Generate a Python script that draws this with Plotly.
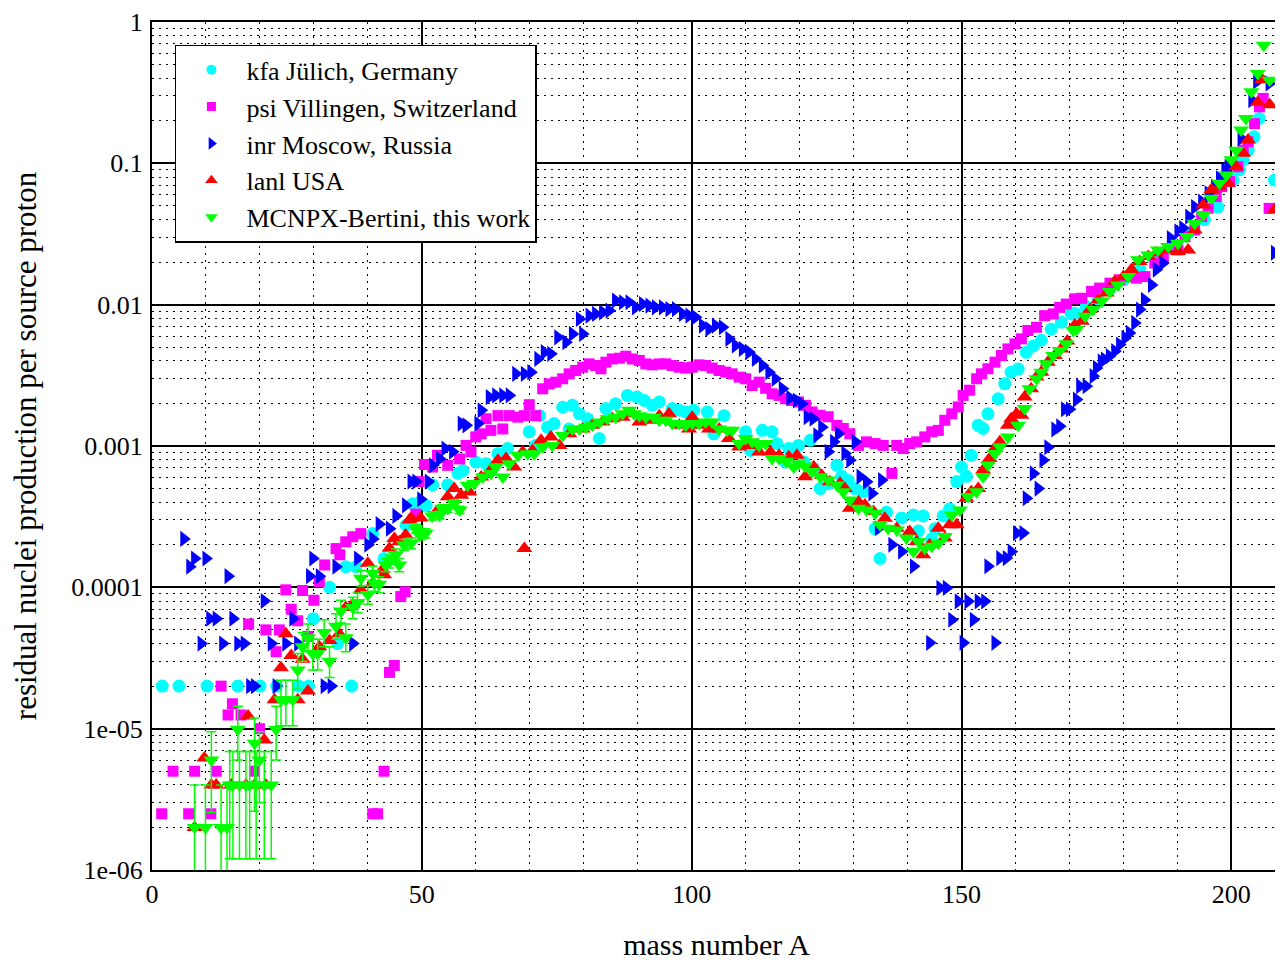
import plotly.graph_objects as go

# ---------------- data ----------------
kfa_A = [1.9, 5.0, 10.2, 15.9, 20.0, 23.1, 27.2, 29.0, 29.9, 32.9, 34.4, 35.9, 37.0, 37.8, 40.9, 43.0,
         47.1, 48.3, 49.6, 50.8, 52.0, 54.8, 56.7, 57.6, 60.0, 61.9, 64.1, 65.9, 69.9, 71.1, 71.8, 73.3,
         74.5, 76.1, 77.3, 77.9, 79.2, 80.7, 82.9, 84.1, 85.9, 88.1, 89.9, 91.2, 92.7, 94.0, 96.4, 97.7,
         98.9, 100.4, 102.9, 104.1, 106.0, 110.0, 110.9, 113.1, 114.9, 115.8, 117.4, 118.0, 119.8, 120.8,
         122.0, 122.6, 123.8, 125.3, 126.9, 127.8, 129.0, 130.3, 131.8, 134.0, 134.9, 136.1, 138.9, 141.1,
         142.0, 142.9, 144.5, 145.1, 146.6, 147.8, 149.1, 150.0, 150.9, 151.8, 153.1, 154.0, 154.9, 156.8,
         158.0, 159.2, 160.5, 162.0, 163.3, 164.8, 166.6, 168.5, 170.3, 171.0, 173.1, 175.3, 177.5, 180.0,
         183.0, 186.0, 189.0, 192.0, 195.0, 197.5, 200.3, 201.5, 202.2, 203.1, 204.2, 205.2, 208.0]
kfa_val = [2e-5, 2e-5, 2e-5, 2e-5, 2e-5, 2e-5, 2e-5, 2e-5, 6.0e-5, 1.0e-4, 4.0e-5, 1.4e-4, 2e-5, 1.4e-4, 2.4e-4, 1.6e-4,
           2.75e-4, 3.9e-4, 4.0e-4, 3.8e-4, 5.3e-4, 5.3e-4, 6.4e-4, 6.7e-4, 7.7e-4, 7.5e-4, 8.8e-4, 9.6e-4, 1.26e-3, 1.01e-3, 1.64e-3, 1.36e-3,
           1.44e-3, 1.88e-3, 1.32e-3, 1.94e-3, 1.69e-3, 1.56e-3, 1.13e-3, 1.84e-3, 1.99e-3, 2.28e-3, 2.22e-3, 2.10e-3, 1.94e-3, 2.05e-3, 1.84e-3, 1.79e-3,
           1.74e-3, 1.79e-3, 1.74e-3, 1.22e-3, 1.64e-3, 1.26e-3, 9.3e-4, 1.29e-3, 1.26e-3, 1.04e-3, 7.7e-4, 9.6e-4, 1.01e-3, 7.7e-4,
           1.10e-3, 6.9e-4, 5.0e-4, 5.4e-4, 7.3e-4, 6.1e-4, 5.7e-4, 5.0e-4, 4.75e-4, 2.6e-4, 1.6e-4, 3.4e-4, 3.1e-4, 3.25e-4,
           2.5e-4, 3.2e-4, 2.2e-4, 2.6e-4, 3.2e-4, 3.6e-4, 5.6e-4, 7.1e-4, 6.1e-4, 8.6e-4, 1.40e-3, 1.33e-3, 1.69e-3, 2.16e-3,
           2.76e-3, 3.33e-3, 3.5e-3, 4.6e-3, 5.1e-3, 5.6e-3, 6.7e-3, 7.5e-3, 8.6e-3, 8.7e-3, 9.7e-3, 1.1e-2, 1.3e-2, 1.5e-2,
           1.8e-2, 2.1e-2, 2.5e-2, 3.2e-2, 4.0e-2, 4.9e-2, 7.6e-2, 9.0e-2, 0.106, 0.124, 0.154, 0.208, 7.6e-2]

psi_A = [1.8, 3.9, 6.8, 7.9, 10.9, 11.9, 12.8, 14.1, 14.9, 16.5, 17.9, 19.0, 19.9, 21.1, 23.0, 23.6, 24.8, 25.8,
         27.0, 27.9, 28.9, 30.0, 31.0, 32.0, 34.1, 34.8, 35.9, 37.2, 38.7, 40.9, 41.8, 43.0, 44.0, 44.9, 46.1, 46.9,
         48.9, 49.5, 50.5, 52.0, 52.9, 54.8, 57.0, 58.2, 59.1, 60.0, 61.0, 61.9, 62.8, 64.1, 65.0, 66.2, 67.8, 69.0,
         69.9, 71.1, 72.4, 73.6, 74.8, 76.1, 77.3, 78.5, 79.8, 81.0, 82.2, 83.2, 84.1, 85.3, 86.6, 87.8, 89.0, 90.3,
         91.5, 92.7, 94.0, 95.2, 96.4, 97.7, 98.9, 100.1, 101.4, 102.6, 103.8, 105.1, 106.3, 107.5, 108.8, 110.0,
         111.2, 112.5, 113.7, 114.9, 116.2, 117.4, 118.6, 119.8, 121.1, 122.3, 123.8, 125.3, 126.9, 128.1, 129.3,
         130.9, 132.4, 134.0, 135.5, 137.1, 138.0, 139.2, 140.4, 141.7, 143.2, 144.5, 145.7, 146.9, 148.2, 149.4,
         150.3, 151.5, 152.8, 153.7, 154.9, 156.2, 157.4, 158.6, 159.9, 161.1, 162.3, 163.9, 165.4, 167.0, 168.2,
         169.4, 171.0, 172.3, 174.1, 175.6, 177.5, 179.3, 180.9, 182.4, 184.0, 185.8, 187.4, 190.1, 191.4, 193.2,
         194.5, 195.7, 197.2, 198.2, 199.7, 201.2, 202.2, 203.1, 204.3, 205.2, 205.9, 207.0]
psi_val = [2.5e-6, 5e-6, 2.5e-6, 5e-6, 2.5e-6, 5e-6, 2e-5, 1.25e-5, 1.5e-5, 1.25e-5, 5.5e-5, 5e-6, 1.0e-5, 5.0e-5, 3.5e-5, 5.0e-5, 9.6e-5, 7.0e-5,
           5.8e-5, 9.5e-5, 4.5e-5, 8.1e-5, 1.1e-4, 1.44e-4, 1.88e-4, 1.7e-4, 2.1e-4, 2.28e-4, 2.4e-4, 2.5e-6, 2.5e-6, 5e-6, 2.5e-5, 2.8e-5, 8.6e-5, 9.3e-5,
           3.3e-4, 5.6e-4, 7.4e-4, 7.1e-4, 8.6e-4, 7.3e-4, 8.1e-4, 1.01e-3, 9.1e-4, 1.16e-3, 1.22e-3, 1.56e-3, 1.29e-3, 1.64e-3, 1.32e-3, 1.64e-3, 1.6e-3, 1.64e-3,
           1.96e-3, 1.64e-3, 2.54e-3, 2.75e-3, 2.83e-3, 2.99e-3, 3.24e-3, 3.42e-3, 3.61e-3, 3.81e-3, 3.71e-3, 3.52e-3, 3.92e-3, 4.13e-3, 4.18e-3, 4.32e-3, 4.13e-3, 4.03e-3,
           3.81e-3, 3.75e-3, 3.81e-3, 3.81e-3, 3.71e-3, 3.61e-3, 3.56e-3, 3.61e-3, 3.75e-3, 3.71e-3, 3.56e-3, 3.42e-3, 3.33e-3, 3.24e-3, 3.07e-3, 2.99e-3,
           2.68e-3, 2.83e-3, 2.56e-3, 2.34e-3, 2.28e-3, 2.16e-3, 2.10e-3, 2.05e-3, 1.94e-3, 1.74e-3, 1.65e-3, 1.61e-3, 1.40e-3, 1.33e-3, 1.22e-3,
           1.01e-3, 1.07e-3, 1.04e-3, 1.01e-3, 6.4e-4, 1.01e-3, 9.6e-4, 1.04e-3, 1.07e-3, 1.16e-3, 1.26e-3, 1.29e-3, 1.52e-3, 1.69e-3, 1.89e-3,
           2.28e-3, 2.48e-3, 2.99e-3, 3.24e-3, 3.52e-3, 3.92e-3, 4.37e-3, 4.86e-3, 5.28e-3, 5.73e-3, 6.56e-3, 6.92e-3, 8.36e-3, 8.6e-3, 9.57e-3,
           1.01e-2, 1.10e-2, 1.11e-2, 1.24e-2, 1.31e-2, 1.42e-2, 1.5e-2, 1.58e-2, 1.54e-2, 1.58e-2, 1.97e-2, 2.19e-2, 2.44e-2, 3.03e-2, 3.38e-2,
           4.21e-2, 4.81e-2, 5.82e-2, 6.84e-2, 7.43e-2, 9.46e-2, 0.124, 0.142, 0.191, 0.251, 0.288, 4.8e-2]

inr_A = [5.9, 7.0, 7.9, 9.1, 10.0, 10.7, 11.9, 13.1, 14.1, 15.0, 15.9, 17.1, 18.1, 19.0, 20.8, 22.1, 23.0, 24.8,
         26.1, 27.0, 29.2, 29.8, 31.0, 31.9, 33.2, 34.1, 37.2, 38.1, 40.0, 40.9, 42.1, 44.0, 45.2, 47.0, 48.0, 48.9,
         49.8, 51.2, 52.0, 53.3, 54.3, 55.7, 57.3, 58.2, 60.4, 61.0, 62.5, 63.7, 65.0, 66.2, 67.4, 69.0, 70.2, 71.5,
         72.7, 73.9, 75.2, 76.7, 77.9, 79.2, 79.8, 81.0, 82.2, 83.5, 84.7, 85.9, 87.2, 88.4, 89.6, 90.9, 92.1, 93.3,
         94.6, 95.8, 97.0, 98.3, 99.5, 100.7, 102.0, 103.2, 104.4, 105.7, 106.9, 108.1, 109.4, 110.6, 111.8, 113.1,
         114.3, 115.5, 116.8, 118.2, 119.4, 120.4, 121.4, 122.5, 123.2, 124.1, 125.3, 126.3, 127.2, 128.4, 129.3,
         130.3, 131.2, 132.4, 133.4, 134.6, 135.2, 137.1, 138.9, 141.1, 144.1, 146.0, 147.2, 148.2, 149.4, 150.3,
         151.2, 152.2, 153.1, 154.3, 154.9, 156.2, 157.1, 158.3, 159.2, 160.2, 161.4, 162.0, 163.3, 164.2, 165.1,
         166.0, 167.3, 168.2, 169.1, 170.0, 171.3, 171.9, 173.1, 174.4, 175.0, 175.9, 176.5, 177.4, 178.4, 179.3,
         180.3, 181.1, 182.1, 183.0, 183.9, 185.2, 186.1, 187.3, 188.7, 190.1, 191.0, 192.1, 193.2, 194.5, 195.7,
         196.9, 197.8, 198.8, 199.4, 201.8, 203.8, 204.7, 205.5, 207.0, 208.0]
inr_val = [2.2e-4, 1.4e-4, 1.6e-4, 4e-5, 1.6e-4, 6e-5, 6e-5, 4e-5, 1.2e-4, 6e-5, 4e-5, 4e-5, 2e-5, 2e-5, 8e-5, 4e-5, 2e-5, 4e-5,
           6e-5, 4e-5, 1.2e-4, 1.6e-4, 1.2e-4, 2e-5, 2e-5, 1.4e-4, 4e-5, 1.6e-4, 2.0e-4, 2.2e-4, 2.8e-4, 2.6e-4, 3.2e-4, 3.8e-4, 5.6e-4, 5.6e-4,
           4.2e-4, 5.6e-4, 7.3e-4, 8.1e-4, 9.6e-4, 9.1e-4, 1.44e-3, 1.40e-3, 1.44e-3, 1.79e-3, 2.22e-3, 2.28e-3, 2.28e-3, 2.28e-3, 3.24e-3, 3.24e-3, 3.33e-3, 4.13e-3,
           4.61e-3, 4.49e-3, 5.87e-3, 5.42e-3, 6.21e-3, 7.92e-3, 6.21e-3, 8.36e-3, 8.6e-3, 8.83e-3, 9.08e-3, 1.07e-2, 1.04e-2, 1.04e-2, 9.57e-3, 1.01e-2, 9.84e-3, 9.57e-3,
           9.57e-3, 9.31e-3, 9.31e-3, 8.6e-3, 8.36e-3, 8.15e-3, 7.11e-3, 6.73e-3, 7.11e-3, 6.92e-3, 5.73e-3, 5.14e-3, 4.86e-3, 4.61e-3, 4.13e-3, 3.71e-3,
           3.33e-3, 2.99e-3, 2.54e-3, 2.19e-3, 2.10e-3, 1.99e-3, 1.60e-3, 1.56e-3, 1.19e-3, 1.36e-3, 9.1e-4, 1.07e-3, 1.22e-3, 8.85e-4, 7.94e-4,
           1.07e-3, 6.07e-4, 5.58e-4, 4.62e-4, 2.62e-4, 5.74e-4, 2.0e-4, 1.79e-4, 1.41e-4, 4.05e-5, 9.9e-5, 9.9e-5, 5.9e-5, 7.96e-5, 4.05e-5,
           7.96e-5, 5.9e-5, 7.96e-5, 7.96e-5, 1.41e-4, 4.05e-5, 1.61e-4, 1.61e-4, 1.79e-4, 2.42e-4, 2.42e-4, 4.27e-4, 6.4e-4, 5.0e-4, 7.94e-4,
           9.8e-4, 1.31e-3, 1.38e-3, 1.82e-3, 1.82e-3, 2.13e-3, 2.65e-3, 2.65e-3, 3.12e-3, 3.57e-3, 3.98e-3, 4.09e-3, 4.32e-3, 4.69e-3, 5.22e-3,
           5.82e-3, 6.31e-3, 7.43e-3, 9.23e-3, 1.08e-2, 1.38e-2, 1.77e-2, 1.97e-2, 2.96e-2, 3.3e-2, 3.48e-2, 4.2e-2, 4.9e-2, 5.36e-2, 6.14e-2,
           6.84e-2, 7.83e-2, 8.97e-2, 9.46e-2, 0.15, 0.28, 0.38, 0.40, 0.367, 2.33e-2]

lanl_A = [7.9, 9.7, 11.0, 11.9, 14.7, 17.4, 17.8, 19.0, 20.8, 21.1, 22.7, 23.9, 24.8, 25.8, 27.0, 27.9, 28.9, 31.0,
          32.9, 34.7, 35.9, 37.2, 38.7, 40.0, 40.9, 42.7, 43.0, 44.0, 44.9, 45.8, 47.0, 47.7, 48.0, 49.8, 52.7, 54.8,
          56.0, 57.3, 58.8, 61.0, 62.5, 64.1, 65.6, 67.1, 68.7, 69.0, 70.5, 72.1, 73.9, 75.5, 77.3, 79.8, 81.6, 83.5,
          85.3, 87.2, 89.0, 90.3, 92.1, 94.0, 95.8, 97.7, 99.5, 100.1, 101.4, 103.2, 105.1, 106.9, 108.8, 110.6, 112.5,
          114.6, 116.2, 118.0, 119.5, 121.0, 122.6, 124.1, 125.6, 127.5, 128.4, 129.3, 130.9, 132.1, 133.7, 135.8,
          138.0, 140.4, 141.7, 142.9, 144.1, 145.7, 146.9, 147.8, 149.1, 150.9, 151.8, 153.1, 154.0, 155.2, 156.2,
          157.1, 158.6, 159.2, 160.2, 161.1, 161.7, 162.9, 163.9, 164.8, 166.0, 167.3, 168.5, 169.6, 171.0, 172.3,
          173.8, 175.3, 176.9, 178.4, 180.0, 181.5, 183.0, 184.6, 186.1, 188.0, 190.1, 192.0, 193.2, 194.8, 196.3,
          197.8, 199.4, 200.9, 202.2, 203.1, 204.9, 205.7, 207.1, 208.0]
lanl_val = [2e-6, 6.2e-6, 4e-6, 4e-6, 4e-6, 4e-6, 1.23e-5, 4e-6, 8.3e-6, 4e-6, 1.6e-5, 2.7e-5, 4.7e-5, 3.3e-5, 1.6e-5, 3.1e-5, 1.85e-5, 3.8e-5,
            4.2e-5, 4.7e-5, 7.2e-5, 7.6e-5, 9.6e-5, 1.48e-4, 1.07e-4, 1.33e-4, 1.23e-4, 1.89e-4, 2.22e-4, 2.1e-4, 2.35e-4, 2.99e-4, 3.08e-4, 3.1e-4, 3.42e-4, 4.37e-4,
            5.0e-4, 4.49e-4, 4.73e-4, 6.04e-4, 6.55e-4, 7.93e-4, 8.15e-4, 7.11e-4, 9.08e-4, 1.88e-4, 9.31e-4, 1.10e-3, 1.16e-3, 1.01e-3, 1.22e-3, 1.32e-3, 1.40e-3, 1.48e-3,
            1.56e-3, 1.60e-3, 1.69e-3, 1.48e-3, 1.52e-3, 1.64e-3, 1.69e-3, 1.40e-3, 1.32e-3, 1.60e-3, 1.40e-3, 1.32e-3, 1.32e-3, 1.13e-3, 9.84e-4, 1.01e-3, 9.08e-4,
            9.08e-4, 8.6e-4, 8.4e-4, 8.6e-4, 6.07e-4, 7.13e-4, 6.22e-4, 5.58e-4, 5.44e-4, 5.01e-4, 3.62e-4, 4.04e-4, 3.83e-4, 3.44e-4, 3.08e-4,
            2.62e-4, 2.48e-4, 2.11e-4, 1.70e-4, 2.0e-4, 2.62e-4, 2.23e-4, 2.77e-4, 2.77e-4, 4.27e-4, 4.75e-4, 5.01e-4, 6.76e-4, 8.17e-4, 9.6e-4,
            1.07e-3, 1.40e-3, 1.56e-3, 1.69e-3, 1.65e-3, 2.22e-3, 2.54e-3, 3.08e-3, 3.33e-3, 3.92e-3, 4.37e-3, 4.86e-3, 5.53e-3, 7.17e-3, 7.62e-3,
            9.23e-3, 1.08e-2, 1.21e-2, 1.46e-2, 1.58e-2, 1.77e-2, 2.02e-2, 2.19e-2, 2.32e-2, 2.44e-2, 2.38e-2, 2.44e-2, 3.38e-2, 5.08e-2, 6.49e-2,
            6.84e-2, 7.23e-2, 9.46e-2, 0.118, 0.146, 0.27, 0.39, 0.26, 4.7e-2]

mcnpx_A = [7.9, 9.9, 11.0, 12.8, 13.9, 14.4, 15.0, 15.9, 16.2, 17.4, 18.1, 19.0, 19.3, 19.9, 20.8, 22.1, 23.0, 23.9,
           24.8, 26.1, 27.0, 27.9, 28.9, 29.8, 30.7, 31.9, 32.9, 34.1, 35.0, 35.9, 37.2, 38.1, 38.7, 40.0, 40.9, 41.2,
           42.1, 43.3, 44.0, 44.6, 45.2, 45.8, 46.7, 48.0, 48.9, 49.6, 50.7, 51.9, 53.3, 53.8, 54.8, 56.0, 57.0, 58.5,
           59.7, 61.3, 62.8, 63.7, 65.0, 66.2, 67.8, 69.6, 70.8, 72.4, 74.2, 76.1, 77.9, 79.2, 80.4, 81.6, 82.9, 84.4,
           85.9, 87.2, 88.4, 89.3, 90.3, 91.5, 93.0, 94.0, 95.2, 96.4, 97.7, 98.9, 100.1, 101.4, 102.6, 103.8, 105.1,
           106.6, 107.5, 108.8, 110.0, 111.2, 112.5, 113.7, 114.9, 116.2, 117.5, 118.9, 119.8, 121.0, 122.3, 123.8,
           125.3, 126.9, 128.1, 129.3, 130.9, 132.4, 134.0, 134.9, 136.4, 138.0, 139.8, 141.1, 142.0, 143.2, 144.5,
           145.7, 146.9, 148.2, 149.7, 151.2, 152.8, 154.0, 154.9, 156.2, 157.1, 158.6, 160.5, 161.7, 162.6, 163.9,
           164.8, 165.7, 167.0, 168.2, 169.4, 170.7, 171.3, 172.9, 174.4, 176.0, 177.5, 179.0, 180.9, 182.7, 184.6,
           186.4, 188.3, 190.1, 191.7, 193.2, 194.8, 196.3, 197.8, 199.1, 200.0, 200.9, 201.8, 202.7, 203.7, 204.9,
           206.0, 207.1]
mcnpx_val = [2e-6, 2e-6, 6.0e-6, 2e-6, 2e-6, 4e-6, 4e-6, 9.9e-6, 4e-6, 4e-6, 4e-6, 7.9e-6, 4e-6, 6.0e-6, 4e-6, 4e-6, 9.9e-6, 1.6e-5,
             1.6e-5, 1.6e-5, 2.6e-5, 3.8e-5, 4.4e-5, 3.4e-5, 3.4e-5, 4.8e-5, 3.0e-5, 5.3e-5, 6.8e-5, 4.4e-5, 7.2e-5, 7.8e-5, 1.16e-4, 8.9e-5, 1.26e-4, 1.07e-4,
             1.05e-4, 1.44e-4, 1.52e-4, 1.61e-4, 1.70e-4, 1.44e-4, 2.0e-4, 2.05e-4, 2.6e-4, 2.34e-4, 2.41e-4, 3.2e-4, 3.24e-4, 3.62e-4, 3.61e-4, 3.92e-4, 3.52e-4, 5.27e-4,
             5.42e-4, 6.04e-4, 6.38e-4, 7.11e-4, 6.04e-4, 7.5e-4, 8.6e-4, 8.83e-4, 8.83e-4, 9.84e-4, 1.01e-3, 1.19e-3, 1.32e-3, 1.32e-3, 1.36e-3, 1.40e-3, 1.48e-3, 1.56e-3,
             1.60e-3, 1.69e-3, 1.79e-3, 1.69e-3, 1.64e-3, 1.60e-3, 1.60e-3, 1.52e-3, 1.52e-3, 1.44e-3, 1.44e-3, 1.40e-3, 1.44e-3, 1.44e-3, 1.48e-3, 1.48e-3, 1.32e-3,
             1.29e-3, 1.29e-3, 1.04e-3, 1.13e-3, 1.07e-3, 1.01e-3, 1.04e-3, 8.15e-4, 8.15e-4, 7.8e-4, 7.11e-4, 7.5e-4, 7.2e-4, 6.6e-4, 6.07e-4,
             5.74e-4, 5.3e-4, 4.75e-4, 4.15e-4, 3.62e-4, 3.53e-4, 3.34e-4, 2.77e-4, 2.62e-4, 2.55e-4, 2.23e-4, 1.79e-4, 2.11e-4, 1.89e-4, 1.95e-4,
             2.05e-4, 2.29e-4, 3.25e-4, 3.53e-4, 4.39e-4, 4.75e-4, 6.07e-4, 7.33e-4, 8.85e-4, 9.86e-4, 1.16e-3, 1.40e-3, 1.84e-3, 2.54e-3, 2.99e-3,
             3.33e-3, 3.82e-3, 4.37e-3, 4.74e-3, 5.28e-3, 6.56e-3, 6.67e-3, 8.28e-3, 9.23e-3, 1.06e-2, 1.24e-2, 1.38e-2, 1.58e-2, 2.08e-2, 2.25e-2,
             2.44e-2, 2.58e-2, 2.72e-2, 3.03e-2, 3.77e-2, 4.32e-2, 5.66e-2, 7.23e-2, 8.28e-2, 0.106, 0.124, 0.172, 0.208, 0.321, 0.432,
             0.684, 0.387]
# statistical error bars of the MCNPX points (only visible at low A; remaining points have none)
mcnpx_err_up = [2.0e-6, 2.0e-6, 3.5e-6, 2.0e-6, 2.0e-6, 2.9e-6, 2.9e-6, 4.5e-6, 2.9e-6, 2.9e-6, 2.9e-6, 4.0e-6, 2.9e-6, 3.5e-6, 2.9e-6, 2.9e-6, 4.5e-6, 6.0e-6,
                6.0e-6, 6.0e-6, 8.0e-6, 1.0e-5, 1.1e-5, 9.0e-6, 9.0e-6, 1.1e-5, 8.0e-6, 1.2e-5, 1.3e-5, 1.1e-5, 1.3e-5, 1.3e-5, 1.5e-5, 1.4e-5, 1.5e-5, 1.4e-5,
                1.4e-5, 1.6e-5, 1.6e-5, 1.7e-5, 1.7e-5, 1.6e-5, 1.8e-5, 1.8e-5, 2.0e-5, 1.9e-5, 1.9e-5, 2.2e-5, 2.2e-5, 2.3e-5, 2.3e-5, 2.4e-5, 2.3e-5]
mcnpx_err_dn = [1.9e-6, 1.9e-6, 3.45e-6, 1.9e-6, 1.9e-6, 2.8e-6, 2.8e-6, 3.9e-6, 2.8e-6, 2.8e-6, 2.8e-6, 5.3e-6, 2.8e-6, 3.0e-6, 2.8e-6, 2.8e-6, 3.9e-6, 5.5e-6,
                5.5e-6, 5.5e-6, 7.0e-6, 8.0e-6, 9.0e-6, 8.0e-6, 8.0e-6, 1.0e-5, 7.0e-6, 1.0e-5, 1.2e-5, 9.0e-6, 1.2e-5, 1.2e-5, 1.4e-5, 1.3e-5, 1.4e-5, 1.3e-5,
                1.3e-5, 1.5e-5, 1.5e-5, 1.6e-5, 1.6e-5, 1.5e-5, 1.7e-5, 1.7e-5, 1.9e-5, 1.8e-5, 1.8e-5, 2.0e-5, 2.0e-5, 2.1e-5, 2.1e-5, 2.2e-5, 2.1e-5]

series_names = ["kfa Jülich, Germany", "psi Villingen, Switzerland", "inr Moscow, Russia",
                "lanl USA", "MCNPX-Bertini, this work"]
y_tickvals = [1e-6, 1e-5, 1e-4, 1e-3, 1e-2, 1e-1, 1]
y_ticktext = ["1e-06", "1e-05", "0.0001", "0.001", "0.01", "0.1", "1"]
x_tickvals = [0, 50, 100, 150, 200]

# ---------------- figure ----------------
FONT = "Liberation Serif, Times New Roman, serif"
n_pad = len(mcnpx_A) - len(mcnpx_err_up)
err_up = mcnpx_err_up + [0.0] * n_pad
err_dn = mcnpx_err_dn + [0.0] * n_pad

styles = [
    dict(symbol="circle", size=13, color="#00FFFF"),
    dict(symbol="square", size=11, color="#FF00FF"),
    dict(symbol="triangle-right", size=14, color="#0000FF"),
    dict(symbol="triangle-up", size=14, color="#FF0000"),
    dict(symbol="triangle-down", size=14, color="#00FF00"),
]
legend_sizes = [10, 9, 11, 11, 11]
xs = [kfa_A, psi_A, inr_A, lanl_A, mcnpx_A]
ys = [kfa_val, psi_val, inr_val, lanl_val, mcnpx_val]

fig = go.Figure()
for i in range(5):
    kw = {}
    if i == 4:
        kw["error_y"] = dict(type="data", symmetric=False, array=err_up, arrayminus=err_dn,
                             color="#00FF00", thickness=1.5, width=5)
    fig.add_trace(go.Scatter(x=xs[i], y=ys[i], mode="markers", name=series_names[i], showlegend=False,
                             marker=dict(symbol=styles[i]["symbol"], size=styles[i]["size"],
                                         color=styles[i]["color"], line=dict(width=0)), **kw))
# legend entries (small symbols like the reference key)
for i in range(5):
    fig.add_trace(go.Scatter(x=[None], y=[None], mode="markers", name=series_names[i], showlegend=True,
                             marker=dict(symbol=styles[i]["symbol"], size=legend_sizes[i],
                                         color=styles[i]["color"], line=dict(width=0))))

grid_major = dict(showgrid=True, gridcolor="black", gridwidth=1.5)
fig.update_layout(
    width=1275, height=957,
    margin=dict(l=144, r=0, t=11, b=95),
    paper_bgcolor="white", plot_bgcolor="white",
    font=dict(family=FONT, size=26, color="black"),
    showlegend=True,
    legend=dict(x=0.0203, y=0.973, xanchor="left", yanchor="top",
                bgcolor="white", bordercolor="black", borderwidth=1.5,
                font=dict(family=FONT, size=26, color="black"),
                itemwidth=60, tracegroupgap=0, entrywidth=360),
    xaxis=dict(range=[0, 209.2], tickvals=x_tickvals, ticks="", zeroline=False,
               showline=True, linecolor="black", linewidth=2, mirror=True,
               tickfont=dict(family=FONT, size=26), ticklabelstandoff=0,
               title=dict(text="mass number A", font=dict(family=FONT, size=30), standoff=26),
               minor=dict(dtick=10, showgrid=True, gridcolor="black", gridwidth=1, griddash="2px,5px"),
               **grid_major),
    yaxis=dict(type="log", range=[-6, 0], tickvals=y_tickvals, ticktext=y_ticktext, ticks="",
               zeroline=False, showline=True, linecolor="black", linewidth=2, mirror=True,
               tickfont=dict(family=FONT, size=26), ticklabelstandoff=2, ticklabeloverflow="allow",
               title=dict(text="residual nuclei production per source proton", font=dict(family=FONT, size=31), standoff=25),
               minor=dict(dtick="D1", showgrid=True, gridcolor="black", gridwidth=1, griddash="2px,5px"),
               **grid_major),
)

fig.write_html("out.html")
